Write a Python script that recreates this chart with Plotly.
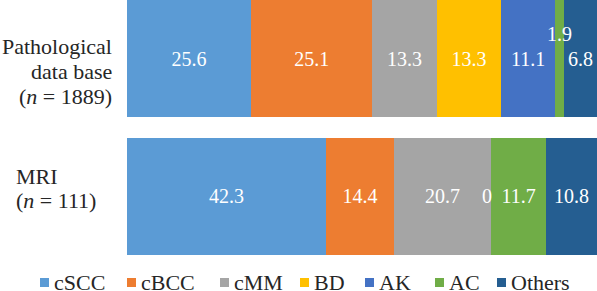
import plotly.graph_objects as go

# ---------------- data ----------------
categories = ["Pathological data base", "MRI"]
category_label_lines = [["Pathological", "data base", "(<i>n</i> = 1889)"],
                        ["MRI", "(<i>n</i> = 111)"]]
series_names = ["cSCC", "cBCC", "cMM", "BD", "AK", "AC", "Others"]
path_values = [25.6, 25.1, 13.3, 13.3, 11.1, 1.9, 6.8]
mri_values = [42.3, 14.4, 20.7, 0.0, None, 11.7, 10.8]

# ---------------- style ----------------
colors = ["#5B9BD5", "#ED7D31", "#A5A5A5", "#FFC000", "#4472C4", "#70AD47", "#255E91"]
FONT = "Liberation Serif"
TXT = "#262626"
W, H = 597, 291
ML, MR, MT, MB = 127, 0, 0, 36
PW, PH = W - ML - MR, H - MT - MB

def px_x(px):
    return (px - ML) / PW

def px_y(py):
    return (MT + PH - py) / PH

fig = go.Figure()

path_total = sum(v for v in path_values if v is not None)
mri_total = sum(v for v in mri_values if v is not None)

for i, name in enumerate(series_names):
    pv, mv = path_values[i], mri_values[i]
    xs = [pv if pv is not None else 0, mv if mv is not None else 0]
    texts = [("" if pv is None else f"{pv:g}"), ("" if mv is None else f"{mv:g}")]
    tpos = []
    for v in (pv, mv):
        if v is None or v < 3:
            tpos.append("none")
        else:
            tpos.append("inside")
    fig.add_trace(go.Bar(
        name=name, y=categories, x=xs, orientation="h",
        marker=dict(color=colors[i], line=dict(width=0)),
        text=texts, textposition=tpos, insidetextanchor="middle",
        textangle=0, constraintext="none",
        textfont=dict(family=FONT, size=20, color="white"),
        showlegend=False, hoverinfo="skip",
    ))

annotations = []
shapes = []

def cum_span(values, total, idx):
    before = sum(v for v in values[:idx] if v is not None)
    return 100 * before / total, 100 * (before + (values[idx] or 0)) / total

ac = series_names.index("AC")
a0, a1 = cum_span(path_values, path_total, ac)
annotations.append(dict(x=(a0 + a1) / 2, y=categories[0], xref="x", yref="y",
                        text=f"{path_values[ac]:g}", showarrow=False, yshift=25,
                        font=dict(family=FONT, size=20, color="white")))
bd = series_names.index("BD")
b0, b1 = cum_span(mri_values, mri_total, bd)
annotations.append(dict(x=b1, y=categories[1], xref="x", yref="y",
                        text=f"{mri_values[bd]:g}", showarrow=False, xshift=-4,
                        font=dict(family=FONT, size=20, color="white")))

# category labels (one annotation per line for tighter line spacing)
label_style = [
    dict(x=px_x(114), xanchor="right", shifts=[12, -12.5, -37.5]),
    dict(x=px_x(14), xanchor="left", shifts=[20, -4.5]),
]
for cat, lines, st in zip(categories, category_label_lines, label_style):
    for line, ys in zip(lines, st["shifts"]):
        annotations.append(dict(x=st["x"], y=cat, xref="paper", yref="y",
                                text=line, showarrow=False, xanchor=st["xanchor"],
                                yanchor="middle", yshift=ys,
                                font=dict(family=FONT, size=22, color=TXT)))

# legend (squares + text)
legend_sq_px = [40, 127, 220, 300, 365, 435, 497]
for i, name in enumerate(series_names):
    x0 = legend_sq_px[i]
    shapes.append(dict(type="rect", xref="paper", yref="paper",
                       x0=px_x(x0), x1=px_x(x0 + 9), y0=px_y(287), y1=px_y(278),
                       fillcolor=colors[i], line=dict(width=0)))
    annotations.append(dict(x=px_x(x0 + 12), y=px_y(282), xref="paper", yref="paper",
                            text=name, showarrow=False, xanchor="left", yanchor="middle",
                            font=dict(family=FONT, size=22, color=TXT)))

fig.update_layout(
    width=W, height=H,
    margin=dict(l=ML, r=MR, t=MT, b=MB, pad=0),
    barmode="stack", barnorm="percent", bargap=0.152,
    paper_bgcolor="white", plot_bgcolor="white",
    xaxis=dict(range=[0, 100], visible=False, showgrid=False, zeroline=False),
    yaxis=dict(type="category", categoryorder="array",
               categoryarray=list(reversed(categories)),
               range=[-0.424, 1.424], showticklabels=False,
               showgrid=False, zeroline=False, ticks=""),
    annotations=annotations, shapes=shapes,
    font=dict(family=FONT, color=TXT),
    showlegend=False,
)

fig.write_html("out.html", config={"displayModeBar": False},
               post_script="document.body.style.margin='0px';document.body.style.overflow='hidden';")
